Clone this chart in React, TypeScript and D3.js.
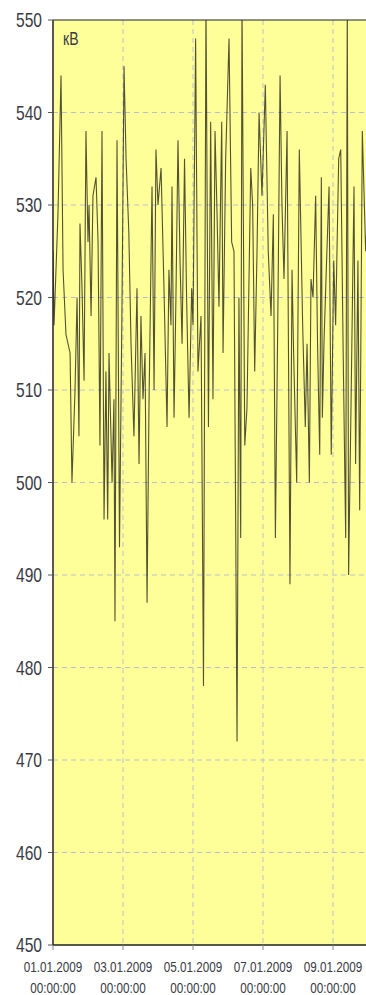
import React from 'react';
import * as d3 from 'd3';

// hours since 01.01.2009 00:00 and voltage
const hours = [
  0, 0.7, 3.4, 5.5, 6.9, 8.9, 11.7, 13.0, 15.1, 16.5, 17.8, 18.5, 19.9, 21.3, 22.6, 24.0, 24.7, 26.1,
  27.4, 29.5, 30.9, 32.2, 33.6, 35.0, 36.3, 37.5, 38.4, 40.5, 41.8, 42.5, 43.9, 45.6, 47.3, 48.7,
  50.1, 52.0, 53.5, 55.5, 57.6, 59.0, 60.3, 61.7, 63.1, 64.5, 65.8, 67.9, 69.3, 70.6, 72.0, 74.1,
  76.1, 78.2, 79.5, 80.9, 81.6, 83.0, 84.3, 85.7, 87.1, 88.5, 90.2, 91.6, 93.3, 95.1, 96.0, 97.8,
  99.4, 101.5, 103.2, 104.9, 106.6, 108.1, 109.7, 111.1, 112.5, 113.8, 115.7, 116.6, 118.4, 120.7,
  122.5, 124.1, 126.2, 127.5, 128.7, 129.6, 131.5, 133.0, 135.6, 136.9, 138.3, 139.9, 141.3, 143.3,
  145.6, 147.6, 149.5, 151.1, 152.5, 154.3, 155.7, 157.0, 158.4, 160.5, 162.5, 163.9, 165.0, 167.1,
  168.9, 171.2, 173.0, 174.2, 175.8, 176.9, 178.3, 180.1, 181.4, 182.9, 184.0, 184.7, 185.8, 187.4,
  189.3, 190.8, 192.5, 193.8, 195.9, 197.3, 198.9, 200.7, 201.8, 202.7, 204.5, 206.4, 207.5, 209.1,
  210.3, 212.1, 214.4, 216,
];
const kv = [
  525, 517, 529, 544, 523, 516, 514, 500, 510, 520, 505, 528, 521, 511, 538, 526, 530, 518,
  531, 533, 526, 504, 538, 496, 512, 496, 514, 500, 509, 485, 537, 493, 519, 545,
  535, 527, 515, 505, 521, 502, 518, 509, 514, 487, 508, 532, 510, 536, 530, 534,
  521, 506, 523, 517, 532, 507, 520, 537, 524, 515, 535, 520, 507, 521, 517, 548,
  512, 518, 478, 552, 506, 539, 509, 538, 529, 519, 539, 514, 535, 548,
  526, 525, 472, 520, 494, 552, 504, 508, 534, 530, 512, 525, 540, 531,
  543, 525, 518, 529, 494, 520, 544, 530, 522, 538, 489, 523, 514, 500,
  536, 517, 506, 515, 500, 522, 520, 531, 515, 503, 533, 507, 515, 523,
  532, 503, 524, 517, 535, 536, 515, 494, 552, 490, 510, 532, 502, 524,
  497, 538, 525, 530,
];
const yTicks = [450, 460, 470, 480, 490, 500, 510, 520, 530, 540, 550];
const unit = 'кВ';

const W = 366;
const H = 995;
const left = 53;
const top = 20;
const bottom = 945;
const start = new Date(Date.UTC(2009, 0, 1));
const end = new Date(Date.UTC(2009, 0, 10));

const textColor = '#3a3a44';
const gridColor = '#bcbfd0';
const squeeze = 0.78;

export default function App() {
  const x = d3.scaleUtc().domain([start, end]).range([left, left + 315]);
  const y = d3.scaleLinear().domain([450, 550]).range([bottom, top]);

  const points = hours.map((h, i) => ({ t: new Date(start.getTime() + h * 3600000), v: kv[i] }));
  const line = d3.line<{ t: Date; v: number }>().x(d => x(d.t)).y(d => y(d.v));

  const xTicks = d3.utcDay.every(2)!.range(start, new Date(end.getTime() + 1));
  const fmtDate = d3.utcFormat('%d.%m.%Y');
  const fmtTime = d3.utcFormat('%H:%M:%S');

  return (
    <svg width={W} height={H} style={{ position: 'absolute', left: 0, top: 0 }}
      fontFamily="Liberation Sans, Arial, sans-serif">
      <defs>
        <clipPath id="plot">
          <rect x={left} y={top} width={W - left} height={bottom - top} />
        </clipPath>
      </defs>
      <rect x={left} y={top} width={W - left} height={bottom - top} fill="#ffff99" />

      {/* grid */}
      {yTicks.filter(t => t > 450 && t < 550).map(t => (
        <line key={'gy' + t} x1={left} x2={W} y1={y(t)} y2={y(t)}
          stroke={gridColor} strokeDasharray="5,4" />
      ))}
      {xTicks.filter(t => +t > +start).map(t => (
        <line key={'gx' + +t} x1={x(t)} x2={x(t)} y1={top} y2={bottom}
          stroke={gridColor} strokeDasharray="5,4" />
      ))}

      <path d={line(points) ?? ''} fill="none" stroke="#1a1a10" strokeWidth={1.1}
        strokeOpacity={0.75} clipPath="url(#plot)" />

      {/* frame */}
      <line x1={left} x2={W} y1={top} y2={top} stroke="#222" />
      <line x1={left} x2={W} y1={bottom} y2={bottom} stroke="#222" strokeWidth={1.5} />
      <line x1={left} x2={left} y1={top} y2={bottom} stroke="#222" strokeWidth={1.5} />

      {/* y axis */}
      {yTicks.map(t => (
        <g key={'y' + t}>
          <line x1={left - 5} x2={left} y1={y(t)} y2={y(t)} stroke="#555" />
          <text transform={`translate(42,${y(t) + 7}) scale(${squeeze},1)`} textAnchor="end"
            fontSize={20} fill={textColor}>{t}</text>
        </g>
      ))}

      {/* x axis */}
      {xTicks.map(t => (
        <g key={'x' + +t}>
          <line x1={x(t)} x2={x(t)} y1={bottom} y2={bottom + 5} stroke="#888" />
          <text transform={`translate(${x(t)},972) scale(${squeeze},1)`} textAnchor="middle"
            fontSize={15} fill={textColor}>{fmtDate(t)}</text>
          <text transform={`translate(${x(t)},993) scale(${squeeze},1)`} textAnchor="middle"
            fontSize={15} fill={textColor}>{fmtTime(t)}</text>
        </g>
      ))}

      <text transform={`translate(63,45) scale(${squeeze},1)`} fontSize={18} fill={textColor}>{unit}</text>
    </svg>
  );
}
